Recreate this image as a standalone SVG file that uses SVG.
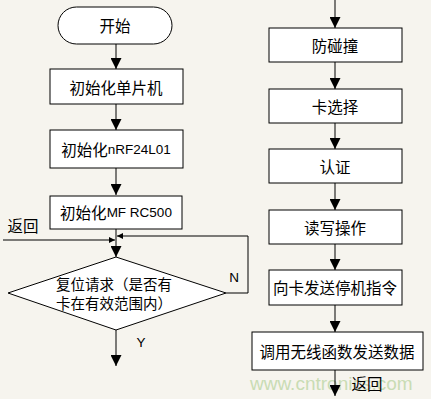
<svg xmlns="http://www.w3.org/2000/svg" width="431" height="399" viewBox="0 0 431 399">
<style>
.bg{fill:#f6f4ee}
.box{fill:#ffffff;stroke:#000;stroke-width:1}
.ln{fill:none;stroke:#000;stroke-width:1}
.t{font-family:"Noto Sans CJK SC","Liberation Sans",sans-serif;font-size:15.5px;fill:#000;text-anchor:middle;dominant-baseline:central}
.d{font-size:14.5px}
.l{font-family:"Liberation Sans",Arial,sans-serif;font-size:13.5px}
.wm{font-family:"Liberation Sans",Arial,sans-serif;font-size:19px;fill:#c9dcb4;text-anchor:start}
</style>
<defs>
<marker id="ah" viewBox="0 0 10 10" refX="10" refY="5" markerWidth="11" markerHeight="11" markerUnits="userSpaceOnUse" orient="auto">
<path d="M0,0 L10,5 L0,10 z" fill="#000"/>
</marker>
<marker id="sm" viewBox="0 0 10 10" refX="10" refY="5" markerWidth="6" markerHeight="6" markerUnits="userSpaceOnUse" orient="auto">
<path d="M0,0 L10,5 L0,10 z" fill="#000"/>
</marker>
</defs>
<rect class="bg" x="0" y="0" width="431" height="399"/>
<text class="wm" x="250" y="390">www.cntronics.com</text>
<g id="connectors">
<line class="ln" x1="116" y1="44" x2="116" y2="69" marker-end="url(#ah)"/>
<line class="ln" x1="116" y1="104" x2="116" y2="130" marker-end="url(#ah)"/>
<line class="ln" x1="116" y1="168" x2="116" y2="195" marker-end="url(#ah)"/>
<line class="ln" x1="116" y1="229" x2="116" y2="257" marker-end="url(#ah)"/>
<line class="ln" x1="3" y1="240" x2="115" y2="240" marker-end="url(#sm)"/>
<polyline class="ln" points="226,293 248,293 248,236 117,236" marker-end="url(#sm)"/>
<line class="ln" x1="116" y1="330" x2="116" y2="366" marker-end="url(#ah)"/>
<line class="ln" x1="335" y1="0" x2="335" y2="28" marker-end="url(#ah)"/>
<line class="ln" x1="335" y1="62" x2="335" y2="89" marker-end="url(#ah)"/>
<line class="ln" x1="335" y1="123" x2="335" y2="149" marker-end="url(#ah)"/>
<line class="ln" x1="335" y1="183" x2="335" y2="210" marker-end="url(#ah)"/>
<line class="ln" x1="335" y1="244" x2="335" y2="270" marker-end="url(#ah)"/>
<line class="ln" x1="335" y1="305" x2="335" y2="332" marker-end="url(#ah)"/>
<line class="ln" x1="335" y1="370" x2="335" y2="396" marker-end="url(#ah)"/>
<text class="t" x="23" y="225">返回</text>
<text class="t l" x="234" y="277">N</text>
<text class="t l" x="141" y="342">Y</text>
<text class="t" x="367" y="383">返回</text>
</g>
<g id="start"><rect class="box" x="58" y="7" width="114" height="37" rx="18.5"/><text class="t" x="115" y="25">开始</text></g>
<g id="init_mcu"><rect class="box" x="50" y="69" width="133" height="35"/><text class="t" x="116" y="87">初始化单片机</text></g>
<g id="init_nrf"><rect class="box" x="50" y="130" width="133" height="38"/><text class="t" x="116" y="149">初始化<tspan class="l">nRF24L01</tspan></text></g>
<g id="init_rc500"><rect class="box" x="50" y="196" width="132" height="33"/><text class="t" x="116" y="212">初始化<tspan class="l">MF RC500</tspan></text></g>
<g id="reset_req"><polygon class="box" points="116,257 226,293 116,330 8,293"/><text class="t d" x="114" y="283">复位请求（是否有</text><text class="t d" x="114" y="302">卡在有效范围内）</text></g>
<g id="anticoll"><rect class="box" x="269" y="28" width="133" height="34"/><text class="t" x="335" y="45">防碰撞</text></g>
<g id="select"><rect class="box" x="269" y="89" width="133" height="34"/><text class="t" x="335" y="106">卡选择</text></g>
<g id="auth"><rect class="box" x="269" y="149" width="133" height="34"/><text class="t" x="335" y="166">认证</text></g>
<g id="rw"><rect class="box" x="269" y="210" width="133" height="34"/><text class="t" x="335" y="227">读写操作</text></g>
<g id="halt"><rect class="box" x="269" y="270" width="133" height="35"/><text class="t" x="335" y="287">向卡发送停机指令</text></g>
<g id="send"><rect class="box" x="252" y="332" width="171" height="38"/><text class="t" x="337" y="351">调用无线函数发送数据</text></g>
</svg>
